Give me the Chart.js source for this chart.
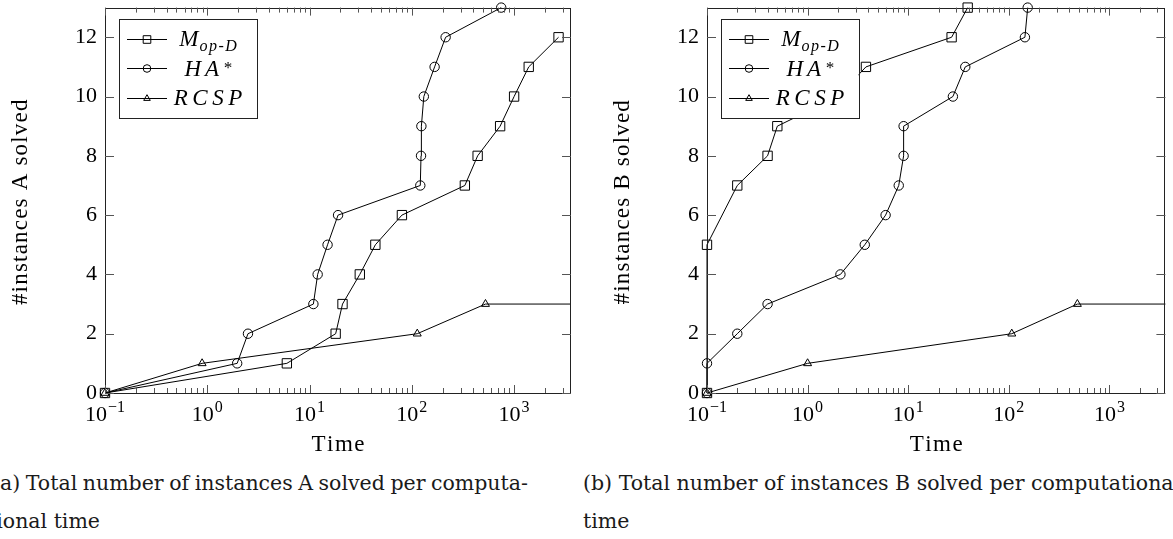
<!DOCTYPE html>
<html>
<head>
<meta charset="utf-8">
<script src="https://cdn.jsdelivr.net/npm/chart.js@4"></script>
<style>
  html, body { margin: 0; padding: 0; background: #fff; overflow: hidden; width: 1173px; height: 539px; }
  canvas { position: absolute; top: 0; }
  #chartA { left: 0; }
  #chartB { left: 586px; }
  .cap { position: absolute; font-family: "DejaVu Serif", serif; font-size: 20.5px; line-height: 38px; color: #1a1a1a; white-space: nowrap; }
  .just { display: flex; justify-content: space-between; }
</style>
</head>
<body>
<canvas id="chartA" width="586" height="460"></canvas>
<canvas id="chartB" width="587" height="460"></canvas>

<div class="cap just" style="left:-8px; top:464px; width:536px">
  <span>(a)</span><span>Total</span><span>number</span><span>of</span><span>instances</span><span>A</span><span>solved</span><span>per</span><span>computa-</span>
</div>
<div class="cap" style="left:-12px; top:502px">tional time</div>
<div class="cap" style="left:583px; top:464px">(b) Total number of instances B solved per computational</div>
<div class="cap" style="left:583px; top:502px">time</div>

<script>
// axis ranges / ticks
const xMin = 0.1, xMax = 3600;
const yMin = 0, yMax = 13;
const yTickStep = 2;
const xDecades = [0.1, 1, 10, 100, 1000];
const xDecadeExps = ['\u22121', '0', '1', '2', '3'];

// (a) instances A
const aMopdTime   = [0.1, 6, 18, 21, 31, 44, 80, 330, 440, 730, 1000, 1390, 2720];
const aMopdSolved = [0, 1, 2, 3, 4, 5, 6, 7, 8, 9, 10, 11, 12];
const aHaTime     = [0.1, 1.96, 2.5, 10.9, 12, 15, 19, 121, 123, 124, 131, 167, 214, 748];
const aHaSolved   = [0, 1, 2, 3, 4, 5, 6, 7, 8, 9, 10, 11, 12, 13];
const aRcspTime   = [0.1, 0.89, 113, 525, 3600];
const aRcspSolved = [0, 1, 2, 3, 3];

// (b) instances B
const bMopdTime   = [0.1, 0.1, 0.2, 0.4, 0.5, 2.0, 3.8, 27, 39];
const bMopdSolved = [0, 5, 7, 8, 9, 10, 11, 12, 13];
const bHaTime     = [0.1, 0.1, 0.2, 0.4, 2.12, 3.7, 5.96, 8.05, 9.0, 9.0, 27.8, 36.9, 144.5, 154];
const bHaSolved   = [0, 1, 2, 3, 4, 5, 6, 7, 8, 9, 10, 11, 12, 13];
const bRcspTime   = [0.1, 1.0, 107, 480, 3600];
const bRcspSolved = [0, 1, 2, 3, 3];

const SERIF = '"Liberation Serif", "DejaVu Serif", serif';

// marker sizes per point style
const markerRadius = { rect: 6.6, circle: 4.7, triangle: 4.6 };

function series(label, xs, ys, style, lastHidden) {
  const n = xs.length;
  return {
    label: label,
    data: xs.map((x, i) => ({ x: x, y: ys[i] })),
    borderColor: '#000',
    borderWidth: 1,
    pointStyle: style,
    pointRadius: ctx => (lastHidden && ctx.dataIndex === n - 1) ? 0 : markerRadius[style],
    pointBorderColor: '#000',
    pointBackgroundColor: 'rgba(0,0,0,0)',
    pointBorderWidth: 1,
    tension: 0,
    clip: false
  };
}

// legend entries: text parts drawn by hand so sub/superscripts work
const legendEntries = [
  { style: 'rect', parts: [{ t: 'M', size: 23, ls: 1 }, { t: 'op-D', size: 16, dy: 5, ls: 1.5 }] },
  { style: 'circle', parts: [{ t: 'HA', size: 23, ls: 4 }, { t: '*', size: 17, dy: -3 }] },
  { style: 'triangle', parts: [{ t: 'RCSP', size: 23, ls: 4.5 }] }
];

function partWidth(ctx, p) {
  ctx.font = 'italic ' + p.size + 'px ' + SERIF;
  let w = 0;
  for (const ch of p.t) w += ctx.measureText(ch).width + (p.ls || 0);
  return w;
}

function drawParts(ctx, parts, cx, baseline) {
  let total = 0;
  parts.forEach(p => total += partWidth(ctx, p));
  total -= parts[parts.length - 1].ls || 0;
  let x = cx - total / 2;
  parts.forEach(p => {
    ctx.font = 'italic ' + p.size + 'px ' + SERIF;
    for (const ch of p.t) {
      ctx.fillText(ch, x, baseline + (p.dy || 0));
      x += ctx.measureText(ch).width + (p.ls || 0);
    }
  });
}

// text with extra letter spacing, centred on (0,0) of the current transform
function drawSpaced(ctx, text, ls) {
  let w = 0;
  for (const ch of text) w += ctx.measureText(ch).width;
  w += ls * (text.length - 1);
  let x = -w / 2;
  for (const ch of text) {
    ctx.fillText(ch, x, 0);
    x += ctx.measureText(ch).width + ls;
  }
}

function drawMarker(ctx, style, x, y, s) {
  ctx.beginPath();
  if (style === 'circle') {
    ctx.arc(x, y, s, 0, Math.PI * 2);
  } else if (style === 'rect') {
    ctx.rect(x - s, y - s, 2 * s, 2 * s);
  } else {
    ctx.moveTo(x, y - s);
    ctx.lineTo(x + s * 0.866, y + s * 0.5);
    ctx.lineTo(x - s * 0.866, y + s * 0.5);
    ctx.closePath();
  }
  ctx.stroke();
}

const framePlugin = {
  id: 'framePlugin',
  afterDraw(chart, args, opts) {
    const ctx = chart.ctx;
    const ca = chart.chartArea;
    const xs = chart.scales.x, ys = chart.scales.y;
    ctx.save();
    ctx.strokeStyle = '#222';
    ctx.lineWidth = 1;

    // frame
    ctx.strokeRect(Math.round(ca.left) + 0.5, Math.round(ca.top) + 0.5,
                   Math.round(ca.right - ca.left) - 1, Math.round(ca.bottom - ca.top));

    // x ticks (inward, top and bottom)
    ctx.strokeStyle = '#555';
    ctx.beginPath();
    xDecades.forEach(d => {
      for (let k = 1; k <= 9; k++) {
        const v = d * k;
        if (v > xMax) break;
        const px = Math.round(xs.getPixelForValue(v)) + 0.5;
        const len = k === 1 ? 8 : 5;
        ctx.moveTo(px, ca.bottom); ctx.lineTo(px, ca.bottom - len);
        ctx.moveTo(px, ca.top); ctx.lineTo(px, ca.top + len);
      }
    });
    // y ticks (inward, left and right)
    for (let v = yMin; v <= yMax; v += yTickStep) {
      const py = Math.round(ys.getPixelForValue(v)) + 0.5;
      ctx.moveTo(ca.left, py); ctx.lineTo(ca.left + 9, py);
      ctx.moveTo(ca.right, py); ctx.lineTo(ca.right - 9, py);
    }
    ctx.stroke();

    // x tick labels 10^k
    ctx.fillStyle = '#000';
    ctx.textBaseline = 'alphabetic';
    ctx.textAlign = 'left';
    xDecades.forEach((d, i) => {
      const px = xs.getPixelForValue(d);
      ctx.font = '22px ' + SERIF;
      const wb = ctx.measureText('10').width;
      ctx.font = '16px ' + SERIF;
      const we = ctx.measureText(xDecadeExps[i]).width;
      const x0 = px - (wb + 1 + we) / 2;
      ctx.font = '22px ' + SERIF;
      ctx.fillText('10', x0, ca.bottom + 28);
      ctx.font = '16px ' + SERIF;
      ctx.fillText(xDecadeExps[i], x0 + wb + 1, ca.bottom + 19);
    });

    // axis titles
    ctx.font = '23px ' + SERIF;
    ctx.textBaseline = 'middle';
    ctx.save();
    ctx.translate((ca.left + ca.right) / 2, 445);
    drawSpaced(ctx, 'Time', 1.5);
    ctx.restore();
    ctx.save();
    ctx.translate(opts.yTitleX, (ca.top + ca.bottom) / 2 + 2);
    ctx.rotate(-Math.PI / 2);
    drawSpaced(ctx, opts.yTitle, 1.2);
    ctx.restore();

    // legend box
    ctx.textBaseline = 'alphabetic';
    const bx = ca.left + 14, by = ca.top + 11.5, bw = 137.5, bh = 99;
    ctx.fillStyle = '#fff';
    ctx.fillRect(bx, by, bw, bh);
    ctx.strokeStyle = '#222';
    ctx.strokeRect(Math.round(bx) + 0.5, Math.round(by) + 0.5, Math.round(bw), Math.round(bh));
    legendEntries.forEach((e, i) => {
      const cy = by + 19.5 + i * 29.5;
      ctx.strokeStyle = '#000';
      ctx.beginPath();
      ctx.moveTo(bx + 8, Math.round(cy) + 0.5);
      ctx.lineTo(bx + 48, Math.round(cy) + 0.5);
      ctx.stroke();
      drawMarker(ctx, e.style, bx + 28, Math.round(cy) + 0.5, 3.8);
      ctx.fillStyle = '#000';
      drawParts(ctx, e.parts, bx + 89, cy + 7.5);
    });
    ctx.restore();
  }
};

function makeChart(id, yTitle, yTitleX, padLeft, padRight, datasets) {
  return new Chart(document.getElementById(id), {
    type: 'line',
    data: { datasets: datasets },
    options: {
      responsive: false,
      animation: false,
      events: [],
      layout: { padding: { left: padLeft, top: 6, right: padRight, bottom: 0 } },
      plugins: {
        legend: { display: false },
        tooltip: { enabled: false },
        framePlugin: { yTitle: yTitle, yTitleX: yTitleX }
      },
      scales: {
        x: {
          type: 'logarithmic',
          min: xMin,
          max: xMax,
          afterFit(s) { s.height = 67; s.paddingLeft = 0; s.paddingRight = 0; },
          grid: { display: false, drawTicks: false },
          border: { display: false },
          ticks: { display: false }
        },
        y: {
          type: 'linear',
          min: yMin,
          max: yMax,
          afterFit(s) { s.width = 100; s.paddingTop = 0; s.paddingBottom = 0; },
          grid: { display: false, drawTicks: false },
          border: { display: false },
          ticks: {
            stepSize: yTickStep, includeBounds: false, padding: 8, color: '#000',
            font: { family: SERIF, size: 22 }
          }
        }
      }
    },
    plugins: [framePlugin]
  });
}

makeChart('chartA', '#instances A solved', 21, 5, 15, [
  series('M_op-D', aMopdTime, aMopdSolved, 'rect', false),
  series('HA*', aHaTime, aHaSolved, 'circle', false),
  series('RCSP', aRcspTime, aRcspSolved, 'triangle', true)
]);

makeChart('chartB', '#instances B solved', 37, 21, 1, [
  series('M_op-D', bMopdTime, bMopdSolved, 'rect', false),
  series('HA*', bHaTime, bHaSolved, 'circle', false),
  series('RCSP', bRcspTime, bRcspSolved, 'triangle', true)
]);
</script>
</body>
</html>
